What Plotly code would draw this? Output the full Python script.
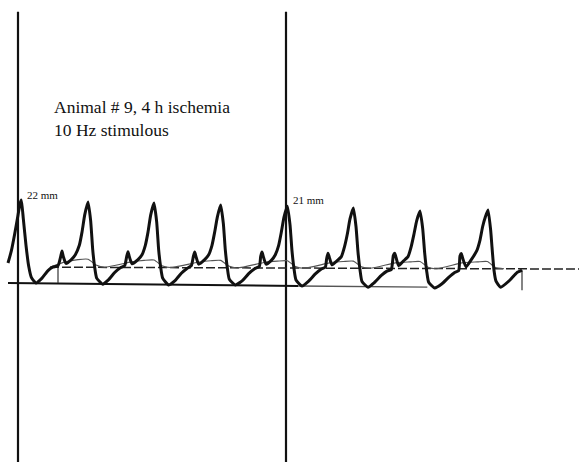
import plotly.graph_objects as go

# Time in ms (10 Hz stimulus -> 100 ms per beat), amplitude in mm above baseline
main_t = [-15, -10, -5, 0, 3, 5,
          8, 12, 16, 20, 27, 36, 45, 52, 60,
          64, 66, 68, 72, 80, 86, 92, 96, 100, 105,
          109, 112, 115, 118, 127, 136, 145, 153, 160,
          163, 165, 167, 171, 180, 186, 191, 195, 199, 204,
          208, 211, 214, 217, 226, 236, 245, 253, 260,
          263, 265, 267, 271, 280, 286, 291, 295, 299, 304,
          308, 311, 314, 317, 326, 337, 346, 355, 362,
          364, 366, 368, 372, 380, 386, 391, 395, 399, 404,
          408, 411, 414, 417, 426, 436, 446, 455, 461,
          463, 465, 467, 471, 478, 485, 490, 494, 498, 503,
          507, 510, 513, 516, 525, 535, 545, 554, 560,
          563, 565, 567, 571, 578, 585, 590, 594, 598, 603,
          607, 610, 613, 616, 625, 636, 646, 655, 661,
          663, 665, 667, 672, 680, 688, 693, 697, 701, 705,
          709, 711, 714, 717, 724, 738, 748, 756]
main_mm = [5.3, 8.5, 13.0, 18.0, 21.0, 22.0,
           17.0, 10.0, 4.5, 1.5, 0.0, 1.3, 3.3, 4.2, 4.6,
           7.0, 8.5, 7.0, 5.2, 6.2, 7.5, 10.0, 13.5, 18.0, 21.5,
           16.5, 9.0, 4.2, 1.3, -0.3, 0.9, 2.8, 4.0, 4.6,
           7.0, 8.3, 7.0, 5.1, 6.2, 7.5, 10.0, 13.5, 18.0, 21.2,
           16.2, 8.8, 4.2, 1.3, -0.5, 0.7, 2.6, 3.8, 4.6,
           7.0, 8.2, 7.0, 5.0, 6.2, 7.5, 10.0, 13.5, 17.5, 20.7,
           15.8, 8.7, 4.0, 1.0, -0.5, 0.7, 2.5, 3.8, 4.4,
           7.0, 8.2, 7.0, 5.0, 6.0, 7.5, 10.0, 13.5, 17.5, 20.4,
           15.5, 8.5, 3.8, 0.8, -0.8, 0.5, 2.4, 3.7, 4.2,
           6.5, 7.9, 6.8, 4.8, 5.8, 7.0, 9.8, 13.0, 17.0, 19.9,
           15.0, 8.2, 3.5, 0.4, -1.1, 0.2, 2.0, 3.2, 3.6,
           7.3, 7.9, 6.8, 4.6, 5.8, 7.0, 9.8, 13.0, 16.5, 19.1,
           14.5, 8.0, 3.2, 0.2, -1.3, -0.2, 1.5, 2.8, 3.3,
           7.2, 7.8, 6.6, 4.3, 6.2, 8.5, 11.4, 15.0, 17.5, 19.4,
           14.0, 9.5, 3.4, 0.5, -1.1, 0.8, 2.7, 3.4]

sec_t = [48, 71, 90, 105, 117, 130, 170, 189, 204, 216, 229, 270, 289, 304, 316, 329,
         371, 389, 404, 416, 429, 469, 488, 503, 515, 528, 568, 588, 603, 615, 628,
         668, 689, 704, 716, 729]
sec_mm = [4.2, 5.6, 6.2, 6.3, 4.8, 4.2, 5.6, 6.0, 6.1, 4.6, 4.1, 5.5, 5.9, 6.0, 4.5, 4.0,
          5.5, 5.8, 5.9, 4.4, 3.9, 5.4, 5.7, 5.8, 4.3, 3.9, 5.4, 5.6, 5.7, 4.2, 3.8,
          5.4, 5.6, 5.7, 4.1, 3.8]

dash_t = [48, 842]
dash_mm = [4.2, 3.7]

base_t = [-15, 420]
base_mm = [0.0, -0.8]
base2_t = [420, 614]
base2_mm = [-0.8, -1.1]

marker_t = [0, 402]          # heavy vertical markers
marker_top = 72.0
marker_bottom = -48.0

tick_t = [60, 756]
tick_lo = [0.0, -1.9]
tick_hi = [4.2, 3.4]

title_lines = ["Animal # 9, 4 h ischemia", "10 Hz stimulous"]
amp_labels = ["22 mm", "21 mm"]
amp_label_t = [11, 410]
amp_label_mm = [23.4, 22.0]

INK = "#111111"
fig = go.Figure()

for t in marker_t:
    fig.add_trace(go.Scatter(x=[t, t], y=[marker_top, marker_bottom], mode="lines",
                             line=dict(color=INK, width=2.2), hoverinfo="skip"))

fig.add_trace(go.Scatter(x=base_t, y=base_mm, mode="lines",
                         line=dict(color=INK, width=2), hoverinfo="skip"))
fig.add_trace(go.Scatter(x=base2_t, y=base2_mm, mode="lines",
                         line=dict(color="#555555", width=1.3), hoverinfo="skip"))
fig.add_trace(go.Scatter(x=dash_t, y=dash_mm, mode="lines",
                         line=dict(color="#222222", width=1.5, dash="9px,3px"), hoverinfo="skip"))
fig.add_trace(go.Scatter(x=sec_t, y=sec_mm, mode="lines",
                         line=dict(color="#555555", width=1.1, shape="spline", smoothing=0.6),
                         hoverinfo="skip"))
for t, lo, hi in zip(tick_t, tick_lo, tick_hi):
    fig.add_trace(go.Scatter(x=[t, t], y=[lo, hi], mode="lines",
                             line=dict(color="#333333", width=1.2), hoverinfo="skip"))

fig.add_trace(go.Scatter(x=main_t, y=main_mm, mode="lines",
                         line=dict(color=INK, width=3, shape="spline", smoothing=0.5),
                         hoverinfo="skip"))

fig.add_annotation(x=51, y=46.6, text=title_lines[0], showarrow=False,
                   xanchor="left", yanchor="middle",
                   font=dict(family="Liberation Serif", size=17.5, color=INK))
fig.add_annotation(x=51, y=40.6, text=title_lines[1], showarrow=False,
                   xanchor="left", yanchor="middle",
                   font=dict(family="Liberation Serif", size=17.5, color=INK))
for txt, t, mm in zip(amp_labels, amp_label_t, amp_label_mm):
    fig.add_annotation(x=t, y=mm, text=txt, showarrow=False, xanchor="left",
                       yanchor="middle",
                       font=dict(family="Liberation Serif", size=11, color=INK))

fig.update_layout(
    width=579, height=462, margin=dict(l=0, r=0, t=0, b=0),
    paper_bgcolor="white", plot_bgcolor="white", showlegend=False,
    xaxis=dict(range=[-27, 841.5], visible=False, fixedrange=True),
    yaxis=dict(range=[-47.5, 75.1], visible=False, fixedrange=True),
)

fig.write_html("out.html", config={"displayModeBar": False})
